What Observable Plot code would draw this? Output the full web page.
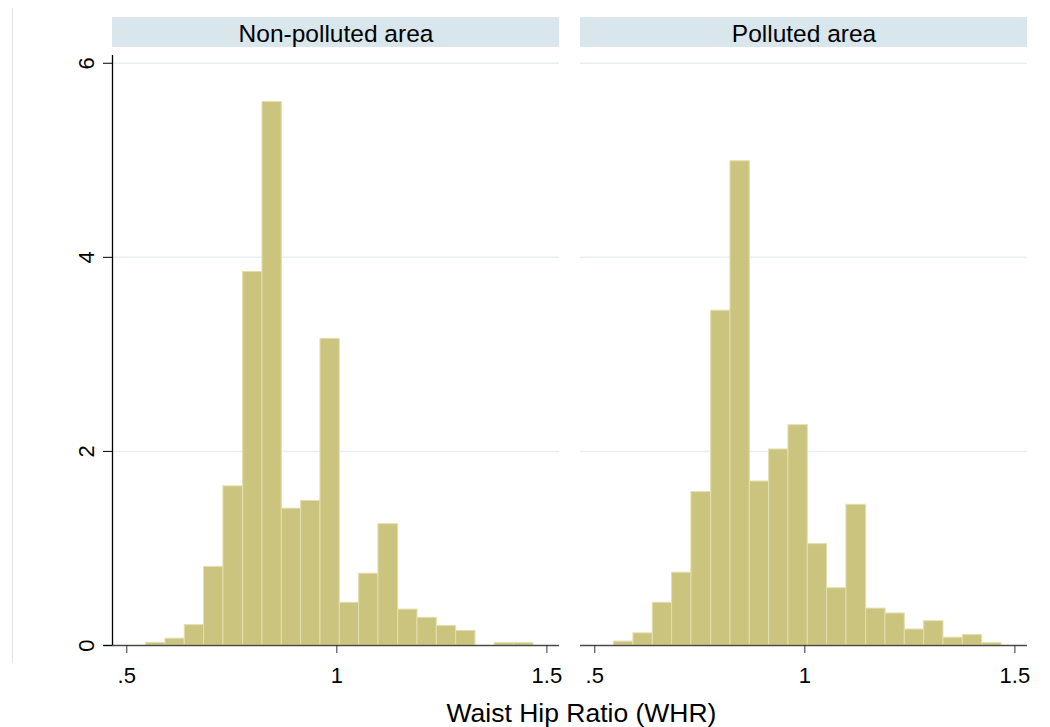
<!DOCTYPE html>
<html><head><meta charset="utf-8">
<script src="https://cdn.jsdelivr.net/npm/d3@7"></script>
<script src="https://cdn.jsdelivr.net/npm/@observablehq/plot@0.6"></script>
<style>
body{margin:0;background:#fff;font-family:"Liberation Sans",Arial,sans-serif;}
#wrap{position:relative;width:1050px;height:727px;overflow:hidden;}
#chart{position:absolute;left:0;top:0;}
#xlabel{position:absolute;left:0;width:1163px;top:700px;text-align:center;font-size:26.5px;line-height:26.5px;color:#000;white-space:nowrap;}
#edge{position:absolute;left:12px;top:8px;width:1px;height:655px;background:#e4e4e4;}
</style></head><body>
<div id="wrap"><div id="edge"></div><div id="chart"></div><div id="xlabel">Waist Hip Ratio (WHR)</div></div>
<script>
const facets = ["Non-polluted area", "Polluted area"];
const binEdges = [0.546, 0.592, 0.638, 0.684, 0.730, 0.777, 0.823, 0.869, 0.915, 0.961, 1.007,
                  1.053, 1.099, 1.146, 1.192, 1.238, 1.284, 1.330, 1.376, 1.422, 1.468];
const nonPolluted = [0.027, 0.07, 0.21, 0.81, 1.64, 3.85, 5.60, 1.41, 1.49, 3.16,
                     0.44, 0.74, 1.25, 0.37, 0.285, 0.20, 0.15, 0, 0.024, 0.024];
const polluted = [0.04, 0.125, 0.44, 0.75, 1.58, 3.45, 4.99, 1.69, 2.02, 2.27,
                  1.045, 0.59, 1.45, 0.38, 0.33, 0.165, 0.25, 0.08, 0.107, 0.024];
const xTicks = [0.5, 1, 1.5];
const xTickLabels = [".5", "1", "1.5"];
const yTicks = [0, 2, 4, 6];
const yTickLabels = ["0", "2", "4", "6"];
const gridTicks = [2, 4, 6];
const xDomain = [0.466, 1.530];
const yDomain = [0, 6.08];

const rows = [];
[nonPolluted, polluted].forEach((vals, f) => {
  vals.forEach((v, i) => {
    if (v > 0) rows.push({area: facets[f], x1: binEdges[i], x2: binEdges[i + 1], density: v});
  });
});

const H = 697, MT = 55, MB = H - 645;
const frameH = H - MT - MB;
const font = "Liberation Sans, Arial, sans-serif";

const chart = Plot.plot({
  width: 1050,
  height: H,
  marginLeft: 112,
  marginRight: 23,
  marginTop: MT,
  marginBottom: MB,
  style: {fontFamily: font, fontSize: "22px", color: "#000", background: "transparent"},
  fx: {domain: facets, axis: null, paddingInner: 0.0449, paddingOuter: 0},
  x: {domain: xDomain},
  y: {domain: yDomain},
  marks: [
    Plot.rect(facets, {fx: d => d, fill: "#d9e6eb", insetTop: 17 - MT, insetBottom: frameH - (47 - MT)}),
    Plot.text(facets, {fx: d => d, text: d => d, frameAnchor: "top", lineAnchor: "middle", dy: -21, fontSize: 24.5, fill: "#000"}),
    Plot.gridY(gridTicks, {stroke: "#e6eff2", strokeOpacity: 1, strokeWidth: 1.5}),
    Plot.rectY(rows, {fx: "area", x1: "x1", x2: "x2", y: "density", fill: "#cbc47f", stroke: "#e3deae", strokeWidth: 1}),
    Plot.ruleY([{y: 0, area: facets[0]}], {y: "y", fx: "area", stroke: "#4a4a40", strokeWidth: 1.5, insetLeft: -9}),
    Plot.ruleY([{y: 0, area: facets[1]}], {y: "y", fx: "area", stroke: "#4a4a40", strokeWidth: 1.5}),
    Plot.ruleX([{x: xDomain[0], area: facets[0]}], {x: "x", fx: "area", stroke: "#000", strokeWidth: 1.3}),
    Plot.axisX({ticks: xTicks, tickFormat: d => xTickLabels[xTicks.indexOf(d)], tickSize: 8, tickPadding: 14, fontSize: 22, label: null, stroke: "#333"}),
    Plot.axisY({ticks: yTicks, tickFormat: d => yTickLabels[yTicks.indexOf(d)], tickSize: 9, tickPadding: 10, tickRotate: -90, fontSize: 22, label: null, stroke: "#000"})
  ]
});
document.getElementById("chart").appendChild(chart);
</script>
</body></html>
